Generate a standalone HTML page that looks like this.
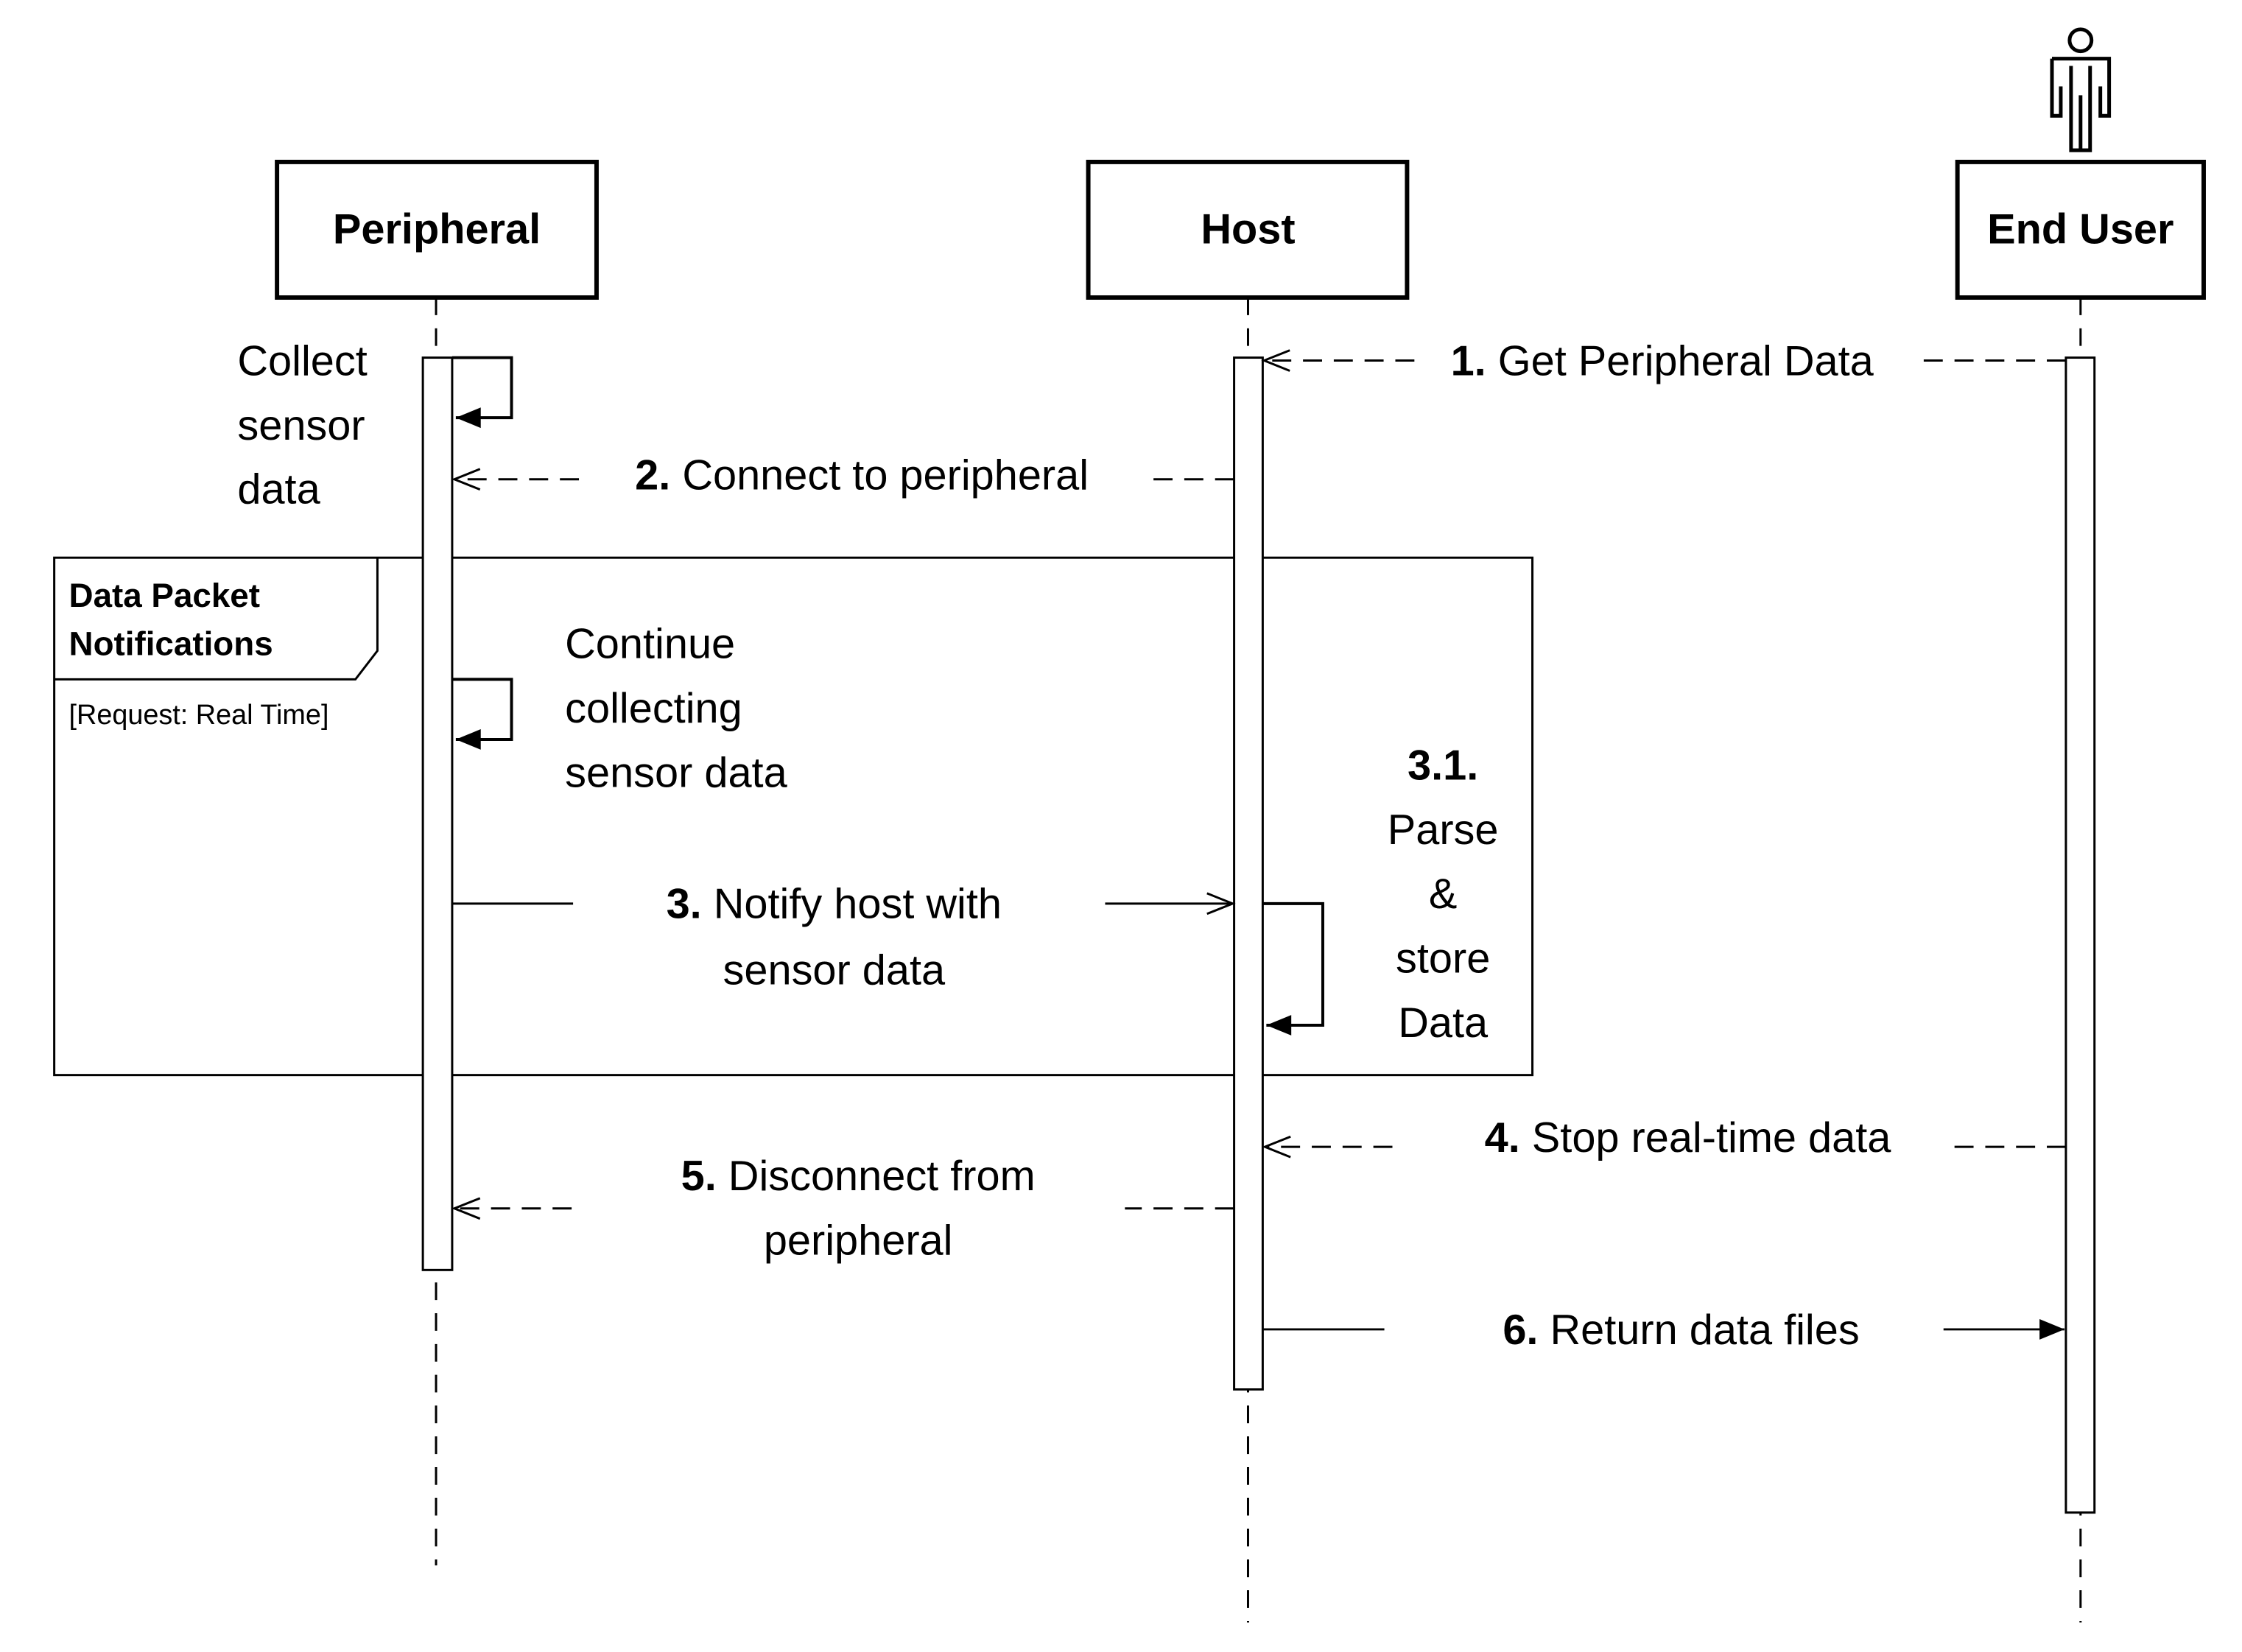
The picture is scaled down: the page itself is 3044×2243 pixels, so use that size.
<!DOCTYPE html>
<html><head><meta charset="utf-8"><style>
html,body{margin:0;padding:0;background:#fff}
svg{display:block}
text{font-family:"Liberation Sans",sans-serif;fill:#000}
.l{font-size:58px}
</style></head><body>
<svg width="3044" height="2243" viewBox="0 0 3044 2243" xmlns="http://www.w3.org/2000/svg">
<defs>
<marker id="fill" markerWidth="40" markerHeight="40" refX="36" refY="20" orient="auto" markerUnits="userSpaceOnUse"><path d="M2,6 L36,20 L2,34 Z" fill="#000"/></marker>
</defs>
<g transform="scale(0.995)">
<g stroke="#000" fill="none">
<line x1="595" y1="406" x2="595" y2="2136" stroke-width="3" stroke-dasharray="24,18"/>
<line x1="1703" y1="406" x2="1703" y2="2214" stroke-width="3" stroke-dasharray="24,18"/>
<line x1="2839" y1="406" x2="2839" y2="2214" stroke-width="3" stroke-dasharray="24,18"/>
<rect x="378" y="221" width="436" height="185" stroke-width="6" fill="#fff"/>
<rect x="1485" y="221" width="435" height="185" stroke-width="6" fill="#fff"/>
<rect x="2671" y="221" width="336" height="185" stroke-width="6" fill="#fff"/>
<rect x="74" y="761" width="2017" height="706" stroke-width="3"/>
<path d="M74,927 L485,927 L515,888 L515,761" stroke-width="3"/>
<rect x="577" y="488" width="40" height="1245" stroke-width="3" fill="#fff"/>
<rect x="1684" y="488" width="39" height="1408" stroke-width="3" fill="#fff"/>
<rect x="2819" y="488" width="39" height="1576" stroke-width="3" fill="#fff"/>
<circle cx="2839" cy="55" r="15" stroke-width="5"/>
<path d="M2800,80 h78 v78 h-12 v-40 M2800,80 v78 h12 v-40 M2826,90 v115 h26 v-115 M2839,130 v75" stroke-width="5"/>
<path d="M617,488 H698 V570 H622" stroke-width="4" marker-end="url(#fill)"/>
<path d="M617,927 H698 V1009 H622" stroke-width="4" marker-end="url(#fill)"/>
<path d="M1723,1233 H1805 V1399 H1728" stroke-width="4" marker-end="url(#fill)"/>
<path d="M2819,492 H2620 M1930,492 H1725" stroke-width="3" stroke-dasharray="26,16"/>
<path d="M1760,478 L1725,492 L1760,506" stroke-width="3"/>
<path d="M1684,654 H1560 M790,654 H620" stroke-width="3" stroke-dasharray="26,16"/>
<path d="M655,640 L620,654 L655,668" stroke-width="3"/>
<path d="M617,1233 H782 M1508,1233 H1682" stroke-width="3"/>
<path d="M1647,1219 L1682,1233 L1647,1247" stroke-width="3"/>
<path d="M2819,1565 H2665 M1900,1565 H1726" stroke-width="3" stroke-dasharray="26,16"/>
<path d="M1761,1551 L1726,1565 L1761,1579" stroke-width="3"/>
<path d="M1684,1649 H1535 M780,1649 H620" stroke-width="3" stroke-dasharray="26,16"/>
<path d="M655,1635 L620,1649 L655,1663" stroke-width="3"/>
<path d="M1723,1814 H1889 M2652,1814 H2817" stroke-width="3" marker-end="url(#fill)"/>
</g>
<g font-weight="bold" font-size="58" text-anchor="middle">
<text x="596" y="332">Peripheral</text>
<text x="1703" y="332">Host</text>
<text x="2839" y="332">End User</text>
</g>
<text x="94" y="828" font-size="46" font-weight="bold">Data Packet</text>
<text x="94" y="894" font-size="46" font-weight="bold">Notifications</text>
<text x="94" y="988" font-size="38" fill="#333">[Request: Real Time]</text>
<g class="l">
<text x="324" y="512">Collect</text>
<text x="324" y="600">sensor</text>
<text x="324" y="687">data</text>
<text x="771" y="898">Continue</text>
<text x="771" y="986">collecting</text>
<text x="771" y="1074">sensor data</text>
</g>
<g class="l" text-anchor="middle">
<text x="2268" y="512"><tspan font-weight="bold">1.</tspan> Get Peripheral Data</text>
<text x="1176" y="668"><tspan font-weight="bold">2.</tspan> Connect to peripheral</text>
<text x="1138" y="1253"><tspan font-weight="bold">3.</tspan> Notify host with</text>
<text x="1138" y="1343">sensor data</text>
<text x="1969" y="1064" font-weight="bold">3.1.</text>
<text x="1969" y="1152">Parse</text>
<text x="1969" y="1239">&amp;</text>
<text x="1969" y="1327">store</text>
<text x="1969" y="1415">Data</text>
<text x="2303" y="1572"><tspan font-weight="bold">4.</tspan> Stop real-time data</text>
<text x="1171" y="1624"><tspan font-weight="bold">5.</tspan> Disconnect from</text>
<text x="1171" y="1712">peripheral</text>
<text x="2294" y="1834"><tspan font-weight="bold">6.</tspan> Return data files</text>
</g>
</g>
</svg>
</body></html>
